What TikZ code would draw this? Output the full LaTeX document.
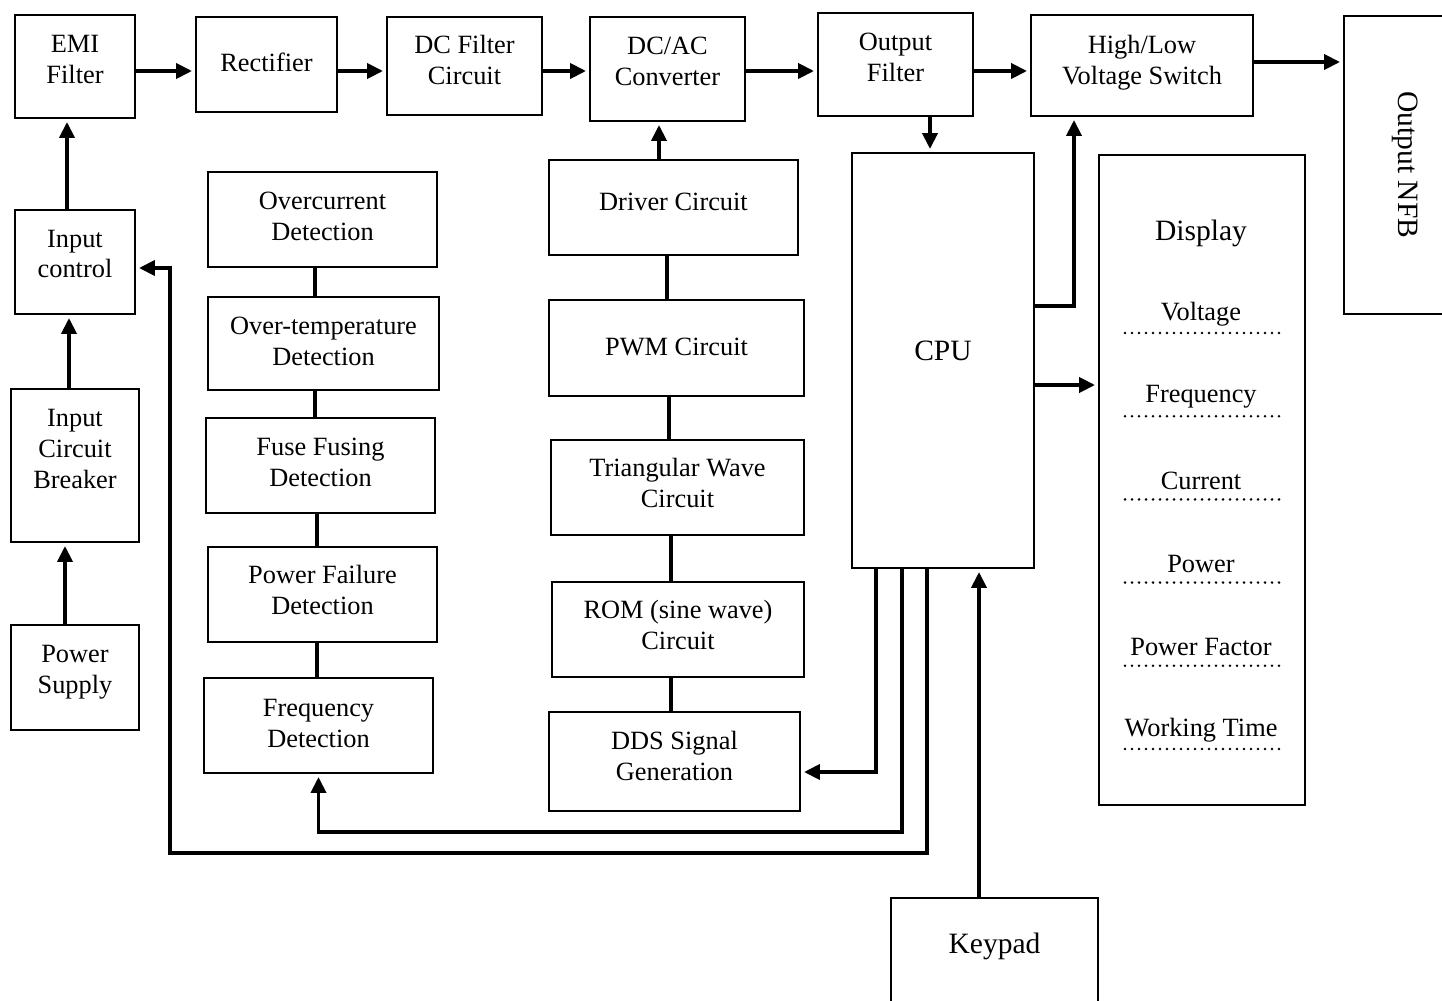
\documentclass[tikz,border=0pt]{standalone}
\usepackage{fontspec}
\setmainfont{Liberation Serif}
\usetikzlibrary{arrows.meta}

\tikzset{
	txt/.style={align=center, font=\fontsize{7.5}{8.8}\selectfont},
	big/.style={align=center, font=\fontsize{8.4}{10}\selectfont},
	box/.style={draw, line width=0.55pt, inner sep=1pt, txt},
	lbl/.style 2 args={label={[txt, yshift=#1]center:#2}},
	arr/.style={line width=1.1pt, -{Triangle[length=1.6mm,width=1.5mm]}, shorten >=0.3mm},
	link/.style={line width=1.1pt},
	dotline/.style={line width=0.28mm, line cap=round, dash pattern=on 0pt off 0.7mm},
}

\begin{document}
\begin{tikzpicture}[x=0.1mm, y=-0.1mm]
			\useasboundingbox (0,0) rectangle (1442,1001);
			
			%%%%% POWER PATH %%%%%
			\node[box, lbl={0.7mm}{EMI\\Filter}, minimum width=12mm, minimum height=10.3mm] (emi) at (75,66.5) {};
			\node[box, lbl={0.2mm}{Rectifier}, minimum width=14.1mm, minimum height=9.5mm] (rect) at (266.5,64.5) {};
			\node[box, lbl={0.6mm}{DC Filter\\Circuit}, minimum width=15.5mm, minimum height=9.8mm] (dcf) at (464.5,66) {};
			\node[box, lbl={0.75mm}{DC/AC\\Converter}, minimum width=15.5mm, minimum height=10.4mm] (dcac) at (667.5,69) {};
			\node[box, lbl={0.7mm}{Output\\Filter}, minimum width=15.5mm, minimum height=10.3mm] (outf) at (895.5,64.5) {};
			\node[box, lbl={0.3mm}{High/Low\\Voltage Switch}, minimum width=22.2mm, minimum height=10.1mm] (hlsw) at (1142,65.5) {};
			\node[box, minimum width=12.2mm, minimum height=29.8mm, label={[big, rotate=-90]center:Output NFB}] (nfb) at (1405,165) {};
			
			\coordinate (row) at (0,71);
			\draw[arr] (emi.east |- row) -- (rect.west |- row);
			\draw[arr] (rect.east |- row) -- (dcf.west |- row);
			\draw[arr] (dcf.east |- row) -- (dcac.west |- row);
			\draw[arr] (dcac.east |- row) -- (outf.west |- row);
			\draw[arr] (outf.east |- row) -- (hlsw.west |- row);
			\draw[arr] ([yshift=0.35mm]hlsw.east) -- ([yshift=0.35mm]hlsw.east -| nfb.west);
			
			%%%%% INPUT SIDE %%%%%
			\node[box, lbl={0.8mm}{Input\\control}, minimum width=12mm, minimum height=10.4mm] (inctl) at (75,262) {};
			\node[box, lbl={1.65mm}{Input\\Circuit\\Breaker}, minimum width=12.8mm, minimum height=15.3mm] (icb) at (75,465.5) {};
			\node[box, lbl={0.5mm}{Power\\Supply}, minimum width=12.8mm, minimum height=10.5mm] (psup) at (75,677.5) {};
			
			\draw[arr] ([xshift=-0.8mm]inctl.north) -- ([xshift=-0.8mm]inctl.north |- emi.south);
			\draw[arr] ([xshift=-0.6mm]icb.north) -- ([xshift=-0.6mm]icb.north |- inctl.south);
			\draw[arr] ([xshift=-1mm]psup.north) -- ([xshift=-1mm]psup.north |- icb.south);
			
			%%%%% DETECTION %%%%%
			\node[box, lbl={0.3mm}{Overcurrent\\Detection}, minimum width=22.9mm, minimum height=9.5mm] (ocd) at (322.5,219.5) {};
			\node[box, lbl={0.2mm}{Over-temperature\\Detection}, minimum width=23.1mm, minimum height=9.3mm] (otd) at (323.5,343.5) {};
			\node[box, lbl={0.3mm}{Fuse Fusing\\Detection}, minimum width=22.9mm, minimum height=9.5mm] (ffd) at (320.5,465.5) {};
			\node[box, lbl={0.45mm}{Power Failure\\Detection}, minimum width=22.9mm, minimum height=9.5mm] (pfd) at (322.5,594.5) {};
			\node[box, lbl={0.2mm}{Frequency\\Detection}, minimum width=22.9mm, minimum height=9.5mm] (fqd) at (318.5,725.5) {};
			
			\draw[link] ([xshift=-0.75mm]ocd.south) -- ([xshift=-0.75mm]ocd.south |- otd.north);
			\draw[link] ([xshift=-0.85mm]otd.south) -- ([xshift=-0.85mm]otd.south |- ffd.north);
			\draw[link] ([xshift=-0.35mm]ffd.south) -- ([xshift=-0.35mm]ffd.south |- pfd.north);
			\draw[link] ([xshift=-0.55mm]pfd.south) -- ([xshift=-0.55mm]pfd.south |- fqd.north);
			
			%%%%% DRIVE CHAIN %%%%%
			\node[box, lbl={0.6mm}{Driver Circuit}, minimum width=24.9mm, minimum height=9.5mm] (drv) at (673.5,207.5) {};
			\node[box, lbl={0.1mm}{PWM Circuit}, minimum width=25.5mm, minimum height=9.6mm] (pwm) at (676.5,348) {};
			\node[box, lbl={0.45mm}{Triangular Wave\\Circuit}, minimum width=25.3mm, minimum height=9.5mm] (tri) at (677.5,487.5) {};
			\node[box, lbl={0.45mm}{ROM (sine wave)\\Circuit}, minimum width=25.2mm, minimum height=9.5mm] (rom) at (678,629.5) {};
			\node[box, lbl={0.55mm}{DDS Signal\\Generation}, minimum width=25.1mm, minimum height=9.9mm] (dds) at (674.5,761.5) {};
			
			\draw[arr] ([xshift=-1.45mm]drv.north) -- ([xshift=-1.45mm]drv.north |- dcac.south);
			\draw[link] ([xshift=-0.65mm]drv.south) -- ([xshift=-0.65mm]drv.south |- pwm.north);
			\draw[link] ([xshift=-0.75mm]pwm.south) -- ([xshift=-0.75mm]pwm.south |- tri.north);
			\draw[link] ([xshift=-0.65mm]tri.south) -- ([xshift=-0.65mm]tri.south |- rom.north);
			\draw[link] ([xshift=-0.7mm]rom.south) -- ([xshift=-0.7mm]rom.south |- dds.north);
			
			%%%%% CONTROL %%%%%
			\node[box, minimum width=18.2mm, minimum height=41.5mm, label={[big, yshift=0.95mm]center:CPU}] (cpu) at (943,360.5) {};
			\node[box, minimum width=20.7mm, minimum height=13.2mm, label={[big, yshift=1.8mm]center:Keypad}] (kpd) at (994.5,964) {};
			\node[box, minimum width=20.6mm, minimum height=65mm] (disp) at (1202,480) {};
			\node[big] (dtitle) at (1201,233) {Display};
			\foreach \name [count=\i] in {Voltage,Frequency,Current,Power,Power Factor,Working Time}{
				\node[txt] (item\i) at (1201,230.8+83.2*\i) {\name};
				\draw[dotline] (1125,249.8+83.2*\i) -- (1280,249.8+83.2*\i);
			}
			
			\draw[arr] ([xshift=3.45mm]outf.south) -- ([xshift=3.45mm]outf.south |- cpu.north);
			\draw[arr] ([yshift=5.45mm]cpu.east) -| ([xshift=-6.8mm]hlsw.south);
			\draw[arr] ([yshift=-2.45mm]cpu.east) -- ([yshift=-2.45mm]cpu.east -| disp.west);
			\draw[arr] ([xshift=-1.55mm]kpd.north) -- ([xshift=-1.55mm]kpd.north |- cpu.south);
			
			\coordinate (lowA) at (0,832);
			\coordinate (lowB) at (170,853);
			\coordinate (fbk) at (170,268);
			\draw[arr] ([xshift=-6.7mm]cpu.south) |- ([yshift=-1.05mm]dds.east);
			\draw[arr] ([xshift=-4.1mm]cpu.south) |- (lowA -| fqd.south) -- (fqd.south);
			\draw[arr] ([xshift=-1.6mm]cpu.south) |- (lowB) -- (fbk) -- (fbk -| inctl.east);
			
\end{tikzpicture}
\end{document}
